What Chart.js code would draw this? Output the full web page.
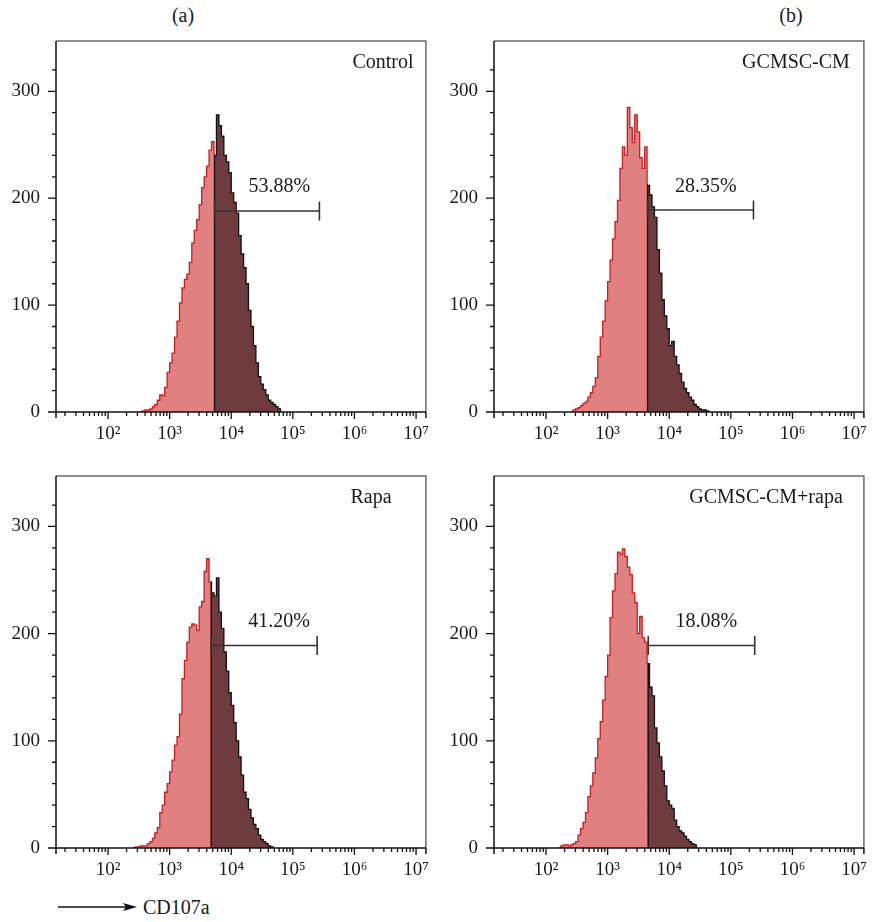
<!DOCTYPE html>
<html>
<head>
<meta charset="utf-8">
<script src="https://cdn.jsdelivr.net/npm/chart.js@4.4.1/dist/chart.umd.min.js"></script>
<style>
  body { margin: 0; background: #fff; }
  #wrap { position: relative; width: 875px; height: 922px; font-family: "Liberation Serif", serif; color: #1a1a1a; }
  canvas { position: absolute; }
  .lbl { position: absolute; font-size: 20px; line-height: 20px; white-space: nowrap; }
</style>
</head>
<body>
<div id="wrap">
  <div class="lbl" style="left:183px; top:5px; transform:translateX(-50%)">(a)</div>
  <div class="lbl" style="left:791px; top:5px; transform:translateX(-50%)">(b)</div>
  <canvas id="p0" width="437" height="430" style="left:0; top:30px"></canvas>
  <canvas id="p1" width="437" height="430" style="left:438px; top:30px"></canvas>
  <canvas id="p2" width="437" height="431" style="left:0; top:465px"></canvas>
  <canvas id="p3" width="437" height="431" style="left:438px; top:465px"></canvas>
  <svg style="position:absolute; left:57px; top:900px" width="84" height="14">
    <line x1="1" y1="7" x2="74" y2="7" stroke="#111" stroke-width="1.5"/>
    <polygon points="80,7 66,3 69,7 66,11" fill="#111"/>
  </svg>
  <div class="lbl" style="left:143px; top:897px">CD107a</div>
</div>
<script>
// histogram bins (fluorescence intensity, left edge of each bin)
var binX = [158, 174, 191, 209, 229, 251, 275, 302, 331, 363, 398, 437, 479, 525, 575, 631, 692, 759, 832, 912,
  1000, 1096, 1202, 1318, 1445, 1585, 1738, 1905, 2089, 2291, 2512, 2754, 3020, 3311, 3631, 3981, 4365, 4786, 5248, 5754,
  6310, 6918, 7586, 8318, 9120, 10000, 10965, 12023, 13183, 14454, 15849, 17378, 19055, 20893, 22909, 25119, 27542, 30200, 33113, 36308,
  39811, 43652, 47863, 52481, 57544, 63096, 69183, 75858, 83176];

var controlCounts = [0, 0, 0, 0, 0, 0, 0, 0, 0,
  1, 2, 2, 3, 5, 7, 11, 16, 15, 23, 37, 46, 55, 70, 85, 102, 116, 124, 129, 140,
  158, 170, 180, 194, 210, 220, 230, 245, 253, 240, 278, 268, 258, 240, 234, 224, 205, 196, 186, 165,
  148, 135, 120, 95, 80, 62, 46, 33, 26, 21, 16, 11, 9, 7, 5, 3,
  0, 0, 0, 0];
var gcmscCounts = [0, 0, 0, 0, 0,
  0, 2, 3, 4, 6, 8, 10, 14, 18, 24, 32, 52, 70, 85, 104, 122, 142, 162, 178, 198,
  228, 248, 240, 285, 266, 252, 278, 262, 238, 228, 248, 212, 203, 192, 182, 152, 130, 105, 90, 78,
  62, 66, 52, 44, 36, 28, 22, 18, 14, 11, 7, 5, 3, 2, 2, 1,
  0, 0, 0, 0, 0, 0, 0, 0];
var rapaCounts = [0, 0, 0, 0, 0, 0,
  1, 1, 2, 2, 2, 4, 6, 9, 14, 19, 33, 40, 52, 60, 71, 82, 96, 104, 125, 158,
  175, 192, 206, 209, 208, 203, 225, 230, 258, 270, 248, 238, 235, 252, 220, 205, 183, 165, 145, 133,
  117, 100, 85, 68, 52, 46, 36, 28, 22, 18, 12, 8, 6, 4, 2, 1,
  0, 0, 0, 0, 0, 0, 0];
var comboCounts = [0, 2, 3, 3, 2, 3, 4, 6, 12, 18, 24, 33, 48, 58, 70, 84, 102, 118, 138, 160,
  180, 215, 240, 256, 276, 274, 279, 272, 262, 255, 238, 229, 200, 216, 196, 192, 172, 150, 142, 112,
  98, 85, 72, 58, 44, 40, 37, 26, 20, 16, 14, 11, 8, 6, 4, 3,
  0, 0, 0, 0, 0, 0, 0, 0, 0, 0, 0, 0, 0];

var panelNames = ["Control", "GCMSC-CM", "Rapa", "GCMSC-CM+rapa"];
var panelCounts = [controlCounts, gcmscCounts, rapaCounts, comboCounts];
var gateX = [5360, 4450, 4740, 4560];
var markerEndX = [270000, 233000, 248000, 244000];
var markerY = [188, 189, 189, 189];
var percentText = ["53.88%", "28.35%", "41.20%", "18.08%"];
var percentX = [60400, 39200, 59700, 39900];
var percentY = [211, 211, 211, 211];

var xMajorTicks = [100, 1000, 10000, 100000, 1000000, 10000000];
var xMajorLabels = ["10\u00B2", "10\u00B3", "10\u2074", "10\u2075", "10\u2076", "10\u2077"];
var yMajorTicks = [0, 100, 200, 300];

// title centres measured from the left edge of each plot box
var titleCenter = [327, 302, 315, 272];

var serif = '"Liberation Serif", "Times New Roman", serif';
Chart.defaults.font.family = serif;
Chart.defaults.color = "#1a1a1a";

function splitAtGate(counts, gate) {
  var k = binX.findIndex(function (x) { return x > gate; }) - 1;
  var first = counts.findIndex(function (c) { return c > 0; });
  var light = [], dark = [];
  for (var i = Math.max(first - 1, 0); i <= k; i++) light.push({ x: binX[i], y: counts[i] });
  light.push({ x: gate, y: counts[k] }, { x: gate, y: 0 });
  dark.push({ x: gate, y: 0 }, { x: gate, y: counts[k] });
  for (var j = k + 1; j < binX.length; j++) {
    dark.push({ x: binX[j], y: counts[j] });
    if (counts[j] === 0) break;
  }
  return { light: light, dark: dark };
}

var xTicks = [];
for (var e = 1; e <= 6; e++) {
  for (var m = 2; m <= 9; m++) xTicks.push(m * Math.pow(10, e));
}
xTicks = xTicks.concat(xMajorTicks).sort(function (a, b) { return a - b; });

var framePlugin = {
  id: "frame",
  afterDraw: function (chart, args, opts) {
    var ctx = chart.ctx, a = chart.chartArea, x = chart.scales.x, y = chart.scales.y;
    ctx.save();
    ctx.lineWidth = 1.5;
    ctx.strokeStyle = "#6a6a6a";
    ctx.beginPath();
    ctx.moveTo(a.left, a.top);
    ctx.lineTo(a.right, a.top);
    ctx.lineTo(a.right, a.bottom);
    ctx.stroke();
    ctx.strokeStyle = "#111";
    ctx.beginPath();
    ctx.moveTo(a.left, a.top);
    ctx.lineTo(a.left, a.bottom + 6);
    ctx.moveTo(a.left, a.bottom);
    ctx.lineTo(a.right, a.bottom);
    ctx.moveTo(a.right, a.bottom);
    ctx.lineTo(a.right, a.bottom + 6);
    ctx.stroke();

    ctx.lineWidth = 1.3;
    ctx.beginPath();
    y.ticks.forEach(function (t) {
      var py = y.getPixelForValue(t.value);
      var len = yMajorTicks.indexOf(t.value) >= 0 ? 8 : 4;
      ctx.moveTo(a.left - len, py);
      ctx.lineTo(a.left, py);
    });
    x.ticks.forEach(function (t) {
      var px = x.getPixelForValue(t.value);
      var len = xMajorTicks.indexOf(t.value) >= 0 ? 7 : 4;
      ctx.moveTo(px, a.bottom);
      ctx.lineTo(px, a.bottom + len);
    });
    ctx.stroke();

    ctx.fillStyle = "#1a1a1a";
    ctx.font = "20px " + serif;
    ctx.textAlign = "center";
    ctx.textBaseline = "middle";
    ctx.fillText(opts.title, a.left + opts.titleCenter, a.top + 22);
    ctx.fillText(opts.pct, x.getPixelForValue(opts.pctX), y.getPixelForValue(opts.pctY));
    ctx.restore();
  }
};

function drawPanels() {
  panelNames.forEach(function (name, i) {
    var parts = splitAtGate(panelCounts[i], gateX[i]);
    new Chart(document.getElementById("p" + i), {
      type: "line",
      data: {
        datasets: [
          {
            label: "gate",
            data: [{ x: gateX[i], y: markerY[i] }, { x: markerEndX[i], y: markerY[i] }],
            borderColor: "#333",
            borderWidth: 1.5,
            pointStyle: "line",
            rotation: 90,
            pointRadius: 9.5,
            pointBorderWidth: 1.6,
            pointBorderColor: "#333",
            fill: false
          },
          {
            label: name + " positive",
            data: parts.dark,
            stepped: true,
            borderColor: "#111",
            borderWidth: 1.3,
            backgroundColor: "rgb(110, 60, 62)",
            pointRadius: 0,
            fill: "origin"
          },
          {
            label: name,
            data: parts.light,
            stepped: true,
            borderColor: "rgb(205, 28, 30)",
            borderWidth: 1.3,
            backgroundColor: "rgb(224, 128, 128)",
            pointRadius: 0,
            fill: "origin"
          }
        ]
      },
      options: {
        responsive: false,
        animation: false,
        devicePixelRatio: 1,
        layout: { padding: { top: 11, right: 9, left: 0, bottom: 0 } },
        plugins: {
          legend: { display: false },
          tooltip: { enabled: false },
          frame: {
            title: name,
            titleCenter: titleCenter[i],
            pct: percentText[i],
            pctX: percentX[i],
            pctY: percentY[i]
          }
        },
        scales: {
          x: {
            type: "logarithmic",
            min: 14.3,
            max: 14450000,
            grid: { display: false, drawTicks: false },
            border: { display: false },
            afterBuildTicks: function (s) {
              s.ticks = xTicks.map(function (v) { return { value: v, major: xMajorTicks.indexOf(v) >= 0 }; });
            },
            afterFit: function (s) {
              s.height = 48;
              s.paddingLeft = 0;
              s.paddingRight = 0;
            },
            ticks: {
              autoSkip: false,
              maxRotation: 0,
              padding: 11,
              font: { size: 19 },
              color: "#1a1a1a",
              callback: function (v) {
                var k = xMajorTicks.indexOf(v);
                return k >= 0 ? xMajorLabels[k] : "";
              }
            }
          },
          y: {
            min: 0,
            max: 347,
            grid: { display: false, drawTicks: false },
            border: { display: false },
            afterBuildTicks: function (s) {
              s.ticks = s.ticks.filter(function (t) { return t.value <= 340; });
            },
            afterFit: function (s) {
              s.width = 56;
              s.paddingTop = 0;
              s.paddingBottom = 0;
            },
            ticks: {
              stepSize: 20,
              autoSkip: false,
              padding: 16,
              font: { size: 19 },
              color: "#1a1a1a",
              callback: function (v) { return yMajorTicks.indexOf(v) >= 0 ? String(v) : ""; }
            }
          }
        }
      },
      plugins: [framePlugin]
    });
  });
}

Promise.all([
  document.fonts.load('19px "Liberation Serif"'),
  document.fonts.load('20px "Liberation Serif"')
]).then(drawPanels, drawPanels);
</script>
</body>
</html>
